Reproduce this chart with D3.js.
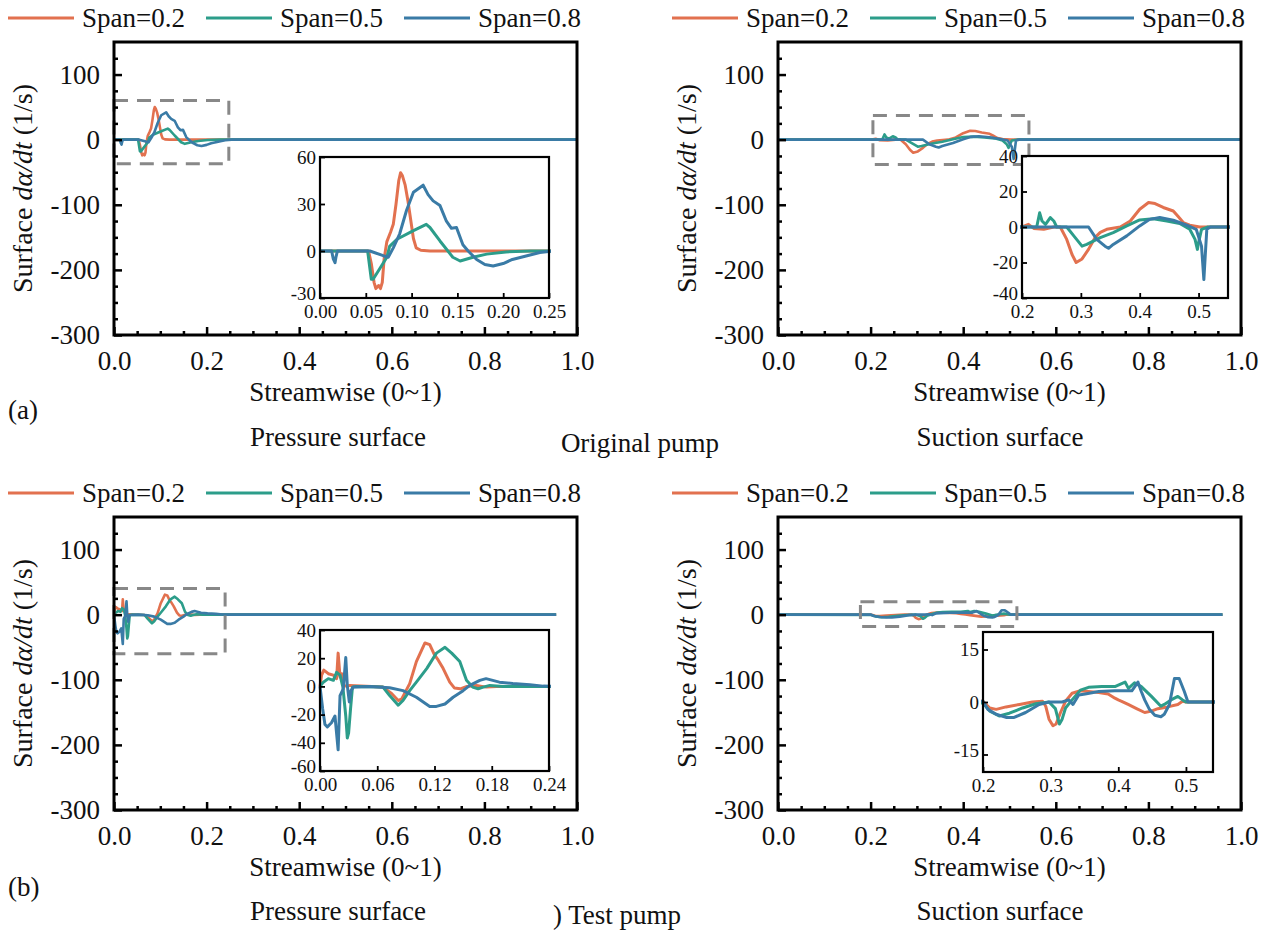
<!doctype html>
<html lang="en">
<head>
<meta charset="UTF-8" />
<title>Surface da/dt</title>
<script src="https://d3js.org/d3.v7.min.js"></script>
<style>
    body, html { margin: 0; padding: 0; background: #fff; }
    svg { display: block; }
    svg text { font-family: "Liberation Serif", "DejaVu Serif", Times, serif !important; fill: #111; }
</style>
</head>
<body>
<svg id="chart" width="1266" height="931"></svg>
<script>
const spans = ["Span=0.2", "Span=0.5", "Span=0.8"];
const colors = ["#e2714f", "#2c9d8a", "#3a7ba6"];

const mainXTicks = [0, 0.2, 0.4, 0.6, 0.8, 1.0];
const mainYTicks = [-300, -200, -100, 0, 100];

// (a) original pump - pressure surface
const aPs02 = [[0,0],[0.053,0],[0.056,-8],[0.059,-20],[0.061,-24],[0.064,-22],[0.066,-24],[0.068,-20],[0.070,-5],[0.073,6],[0.077,12],[0.080,17],[0.083,30],[0.086,45],[0.088,50],[0.090,48],[0.093,42],[0.096,32],[0.099,20],[0.102,8],[0.105,2],[0.110,0.5],[0.120,0],[1.0,0]];
const aPs05 = [[0,0],[0.052,0],[0.056,-18],[0.058,-18],[0.073,-4],[0.076,3],[0.084,7.5],[0.102,13],[0.116,17],[0.120,15],[0.131,6.4],[0.145,-4],[0.153,-6.4],[0.167,-4],[0.182,-2],[0.203,-0.6],[0.230,0],[1.0,0]];
const aPs08 = [[0,0],[0.0127,0],[0.0145,-5],[0.0164,-7.5],[0.0174,-4],[0.019,0],[0.0545,0],[0.069,-3],[0.0745,-4],[0.080,2],[0.087,11],[0.0945,26],[0.102,37.5],[0.1126,42],[0.118,36],[0.1235,32],[0.131,29],[0.138,19],[0.1435,14.5],[0.149,15],[0.156,4],[0.1617,0],[0.171,-5.4],[0.180,-8.6],[0.189,-9.6],[0.200,-8],[0.210,-5.4],[0.225,-3.2],[0.240,-1],[0.254,0],[1.0,0]];

// (a) original pump - suction surface
const aSs02 = [[0,0],[0.2,0],[0.211,1.5],[0.220,-0.8],[0.237,-1.3],[0.254,0],[0.265,0],[0.276,-7],[0.285,-15.5],[0.292,-20],[0.302,-18],[0.313,-12.6],[0.324,-6],[0.333,-3],[0.344,-1.3],[0.367,0],[0.384,3.4],[0.400,10],[0.415,13.8],[0.426,13.2],[0.440,11],[0.457,9],[0.465,6],[0.474,2.5],[0.485,1],[0.502,0],[1.0,0]];
const aSs05 = [[0,0],[0.225,0],[0.230,8],[0.234,3.4],[0.240,1.5],[0.248,5.3],[0.254,3.4],[0.259,0],[0.276,0],[0.288,-5],[0.302,-10.8],[0.310,-9.8],[0.333,-6],[0.355,-3.2],[0.378,0.6],[0.400,4],[0.423,4.7],[0.446,3.4],[0.468,2],[0.485,-1.3],[0.494,-7],[0.498,-12.6],[0.500,-8.9],[0.505,-1.3],[0.516,0],[1.0,0]];
const aSs08 = [[0,0],[0.313,0],[0.327,-7],[0.341,-10.8],[0.347,-12],[0.355,-9.8],[0.378,-5],[0.400,0.6],[0.417,4.3],[0.434,5.3],[0.457,3.8],[0.480,1],[0.496,-1.3],[0.505,-10.8],[0.509,-29.6],[0.511,-18],[0.514,-1.3],[0.520,0],[1.0,0]];

// (b) test pump - pressure surface
const bPs02 = [[0,0],[0.0017,8],[0.004,11.6],[0.0087,9],[0.014,8],[0.0174,5.5],[0.019,23.6],[0.021,6.7],[0.0227,9],[0.025,0.7],[0.028,0],[0.031,0.7],[0.066,-0.5],[0.075,-5],[0.082,-10],[0.0855,-9],[0.094,2],[0.101,17.6],[0.110,30.8],[0.115,29.6],[0.120,22.4],[0.1238,18.8],[0.129,12.8],[0.136,3],[0.141,-1.2],[0.147,-1.7],[0.154,0],[0.164,0.7],[0.174,-0.5],[0.185,0],[0.955,0]];
const bPs05 = [[0,0],[0.0035,3],[0.0087,5.5],[0.014,4.3],[0.0174,10],[0.021,8],[0.024,-0.5],[0.027,-21],[0.0286,-36.6],[0.030,-33],[0.032,-16],[0.034,-0.5],[0.038,0],[0.066,-0.5],[0.073,-6.5],[0.082,-13.3],[0.087,-10],[0.094,-3],[0.101,3],[0.112,12.8],[0.122,23.6],[0.131,27.7],[0.138,23.6],[0.1465,17.6],[0.1535,4.3],[0.160,-0.5],[0.1657,-1.7],[0.171,-0.5],[0.178,0.7],[0.192,0],[0.955,0]];
const bPs08 = [[0,0],[0.0028,-16],[0.0052,-27],[0.0077,-28.7],[0.012,-25.8],[0.0157,-21],[0.019,-45],[0.021,-6.5],[0.0244,-1.7],[0.027,20.5],[0.0286,0.7],[0.0307,-11],[0.0324,-3],[0.035,-0.5],[0.052,0],[0.073,-1],[0.087,-3],[0.101,-7.7],[0.115,-14.2],[0.122,-14.2],[0.131,-12.5],[0.1395,-7.7],[0.150,-3],[0.157,0.7],[0.1675,4.3],[0.174,5.5],[0.188,3],[0.202,2],[0.220,1.2],[0.234,0.2],[0.244,0],[0.955,0]];

// (b) test pump - suction surface
const bSs02 = [[0,0],[0.2,0.2],[0.210,-1.7],[0.2195,-2.1],[0.234,-1.4],[0.254,-0.7],[0.273,0],[0.288,0.2],[0.2927,-1.2],[0.2976,-4.9],[0.3034,-6.8],[0.308,-6.3],[0.3146,-3],[0.322,0.2],[0.3317,2.5],[0.344,3.2],[0.356,3],[0.371,2.7],[0.385,2.3],[0.395,1.1],[0.400,0.6],[0.405,0.2],[0.4146,-0.7],[0.427,-1.9],[0.439,-3],[0.449,-2.6],[0.4585,-1.9],[0.473,-1.4],[0.488,-0.7],[0.495,0.2],[0.500,0],[0.96,0]];
const bSs05 = [[0,0],[0.2,-0.3],[0.210,-2.6],[0.224,-4],[0.239,-3.2],[0.2585,-1.7],[0.278,-0.5],[0.2976,0],[0.307,-1.9],[0.313,-6.3],[0.317,-4.9],[0.322,-1.7],[0.3317,0.6],[0.344,3.4],[0.356,4.2],[0.3756,4.4],[0.395,4.4],[0.410,5.7],[0.415,3.9],[0.424,5.5],[0.434,4.4],[0.449,1.6],[0.463,-1.2],[0.468,-0.7],[0.478,0.6],[0.488,1.6],[0.495,0.6],[0.500,0],[0.96,0]];
const bSs08 = [[0,0],[0.2,0.2],[0.207,-2.1],[0.2195,-3.5],[0.234,-4.4],[0.246,-4.4],[0.263,-3],[0.283,-0.7],[0.2976,0],[0.317,0],[0.327,0.6],[0.333,-0.7],[0.3415,2],[0.351,2.3],[0.371,3],[0.395,3.2],[0.420,3.2],[0.429,5.7],[0.434,3],[0.439,0.6],[0.446,-2.1],[0.454,-3.8],[0.463,-4.2],[0.468,-3.5],[0.4756,-0.7],[0.483,6.7],[0.490,6.7],[0.4976,3],[0.503,0],[0.96,0]];

// inset ranges, tick values and dashed zoom boxes
const aPsInsetX = [0, 0.25], aPsInsetY = [-30, 60];
const aPsInsetXTicks = [0, 0.05, 0.10, 0.15, 0.20, 0.25], aPsInsetYTicks = [-30, 0, 30, 60];
const aPsBox = [0, 0.248, -37, 60];

const aSsInsetX = [0.2, 0.55], aSsInsetY = [-40, 40];
const aSsInsetXTicks = [0.2, 0.3, 0.4, 0.5], aSsInsetYTicks = [-40, -20, 0, 20, 40];
const aSsBox = [0.205, 0.542, -38, 37];

const bPsInsetX = [0, 0.24], bPsInsetY = [-60, 40];
const bPsInsetXTicks = [0, 0.06, 0.12, 0.18, 0.24], bPsInsetYTicks = [-60, -40, -20, 0, 20, 40];
const bPsBox = [0, 0.24, -60, 40];

const bSsInsetX = [0.2, 0.54], bSsInsetY = [-20, 20];
const bSsInsetXTicks = [0.2, 0.3, 0.4, 0.5], bSsInsetYTicks = [-15, 0, 15];
const bSsBox = [0.178, 0.516, -18, 20];

const svg = d3.select("#chart");
const FONT = "Liberation Serif, DejaVu Serif, serif";
// plain hyphen for negative numbers, as in the original figure
const loc = d3.formatLocale({ decimal: ".", thousands: ",", grouping: [3], currency: ["", ""], minus: "-" });

const panels = [
    { id: "aps", left: 114, top: 42, series: [aPs02, aPs05, aPs08], legendX: 8,
      inset: { left: 320, top: 157, w: 229, h: 141, xd: aPsInsetX, yd: aPsInsetY, xt: aPsInsetXTicks, yt: aPsInsetYTicks, fmt: ".2f" }, box: aPsBox },
    { id: "ass", left: 778, top: 42, series: [aSs02, aSs05, aSs08], legendX: 672,
      inset: { left: 1022, top: 156, w: 206, h: 142, xd: aSsInsetX, yd: aSsInsetY, xt: aSsInsetXTicks, yt: aSsInsetYTicks, fmt: ".1f" }, box: aSsBox },
    { id: "bps", left: 114, top: 517, series: [bPs02, bPs05, bPs08], legendX: 8,
      inset: { left: 320, top: 630, w: 229, h: 141, xd: bPsInsetX, yd: bPsInsetY, xt: bPsInsetXTicks, yt: bPsInsetYTicks, fmt: ".2f" }, box: bPsBox },
    { id: "bss", left: 778, top: 517, series: [bSs02, bSs05, bSs08], legendX: 672,
      inset: { left: 983, top: 632, w: 230, h: 140, xd: bSsInsetX, yd: bSsInsetY, xt: bSsInsetXTicks, yt: bSsInsetYTicks, fmt: ".1f" }, box: bSsBox }
];

const W = 463, H = 293;

function drawPanel(p) {
    const g = svg.append("g").attr("transform", `translate(${p.left},${p.top})`);
    const x = d3.scaleLinear().domain([0, 1]).range([0, W]);
    const y = d3.scaleLinear().domain([-300, 150]).range([H, 0]);

    g.append("clipPath").attr("id", "clip-" + p.id)
        .append("rect").attr("width", W).attr("height", H);

    const line = d3.line().x(d => x(d[0])).y(d => y(d[1]));
    p.series.forEach((s, i) => {
        g.append("path").datum(s)
            .attr("clip-path", `url(#clip-${p.id})`)
            .attr("fill", "none").attr("stroke", colors[i]).attr("stroke-width", 2.6)
            .attr("stroke-linejoin", "round")
            .attr("d", line);
    });

    // dashed zoom box
    g.append("rect")
        .attr("x", x(p.box[0])).attr("y", y(p.box[3]))
        .attr("width", x(p.box[1]) - x(p.box[0])).attr("height", y(p.box[2]) - y(p.box[3]))
        .attr("fill", "none").attr("stroke", "#888").attr("stroke-width", 3)
        .attr("stroke-dasharray", "14,9");

    // axes, ticks pointing inward
    const xAxis = g.append("g").attr("transform", `translate(0,${H})`)
        .call(d3.axisBottom(x).tickValues(mainXTicks).tickSize(-8).tickPadding(11).tickFormat(loc.format(".1f")));
    const xMinor = g.append("g").attr("transform", `translate(0,${H})`)
        .call(d3.axisBottom(x).tickValues(d3.range(0.05, 1, 0.05).filter(v => Math.abs(v * 5 - Math.round(v * 5)) > 1e-6)).tickSize(-4).tickFormat(""));
    const yAxis = g.append("g")
        .call(d3.axisLeft(y).tickValues(mainYTicks).tickSize(-8).tickPadding(14).tickFormat(loc.format("d")));
    const yMinor = g.append("g")
        .call(d3.axisLeft(y).tickValues(d3.range(-275, 150, 25).filter(v => v % 100 !== 0)).tickSize(-4).tickFormat(""));
    [xAxis, xMinor, yAxis, yMinor].forEach(a => {
        a.attr("font-family", FONT);
        a.select(".domain").remove();
        a.selectAll("line").attr("stroke", "#000").attr("stroke-width", 2.5);
        a.selectAll("text").attr("font-size", 27).attr("fill", "#111");
    });
    xAxis.selectAll("text").attr("dy", "0.9em");

    g.append("rect").attr("width", W).attr("height", H)
        .attr("fill", "none").attr("stroke", "#000").attr("stroke-width", 3);

    // y label
    const yl = g.append("text")
        .attr("transform", `translate(${-82},${H / 2}) rotate(-90)`)
        .attr("text-anchor", "middle").attr("font-size", 28);
    yl.append("tspan").text("Surface ");
    yl.append("tspan").attr("font-style", "italic").text("d\u03b1/dt");
    yl.append("tspan").text(" (1/s)");

    g.append("text").attr("x", W / 2).attr("y", H + 66)
        .attr("text-anchor", "middle").attr("font-size", 27)
        .text("Streamwise (0~1)");

    // legend above the frame
    const lg = svg.append("g").attr("transform", `translate(${p.legendX},${p.top - 24})`);
    spans.forEach((s, i) => {
        const gx = i * 198;
        lg.append("line").attr("x1", gx).attr("x2", gx + 66).attr("y1", 0).attr("y2", 0)
            .attr("stroke", colors[i]).attr("stroke-width", 3);
        lg.append("text").attr("x", gx + 74).attr("y", 9).attr("font-size", 27).text(s);
    });

    // inset
    const ins = p.inset;
    const ig = svg.append("g").attr("transform", `translate(${ins.left},${ins.top})`);
    const xi = d3.scaleLinear().domain(ins.xd).range([0, ins.w]);
    const yi = d3.scaleLinear().domain(ins.yd).range([ins.h, 0]);
    ig.append("rect").attr("width", ins.w).attr("height", ins.h).attr("fill", "#fff");
    ig.append("clipPath").attr("id", "iclip-" + p.id)
        .append("rect").attr("x", -2).attr("y", -2).attr("width", ins.w + 4).attr("height", ins.h + 4);
    const iline = d3.line().x(d => xi(d[0])).y(d => yi(d[1]));
    p.series.forEach((s, i) => {
        ig.append("path").datum(s)
            .attr("clip-path", `url(#iclip-${p.id})`)
            .attr("fill", "none").attr("stroke", colors[i]).attr("stroke-width", 3)
            .attr("stroke-linejoin", "round")
            .attr("d", iline);
    });
    const ixa = ig.append("g").attr("transform", `translate(0,${ins.h})`)
        .call(d3.axisBottom(xi).tickValues(ins.xt).tickSize(-5).tickPadding(4).tickFormat(loc.format(ins.fmt)));
    const iya = ig.append("g")
        .call(d3.axisLeft(yi).tickValues(ins.yt).tickSize(-5).tickPadding(4).tickFormat(loc.format("d")));
    [ixa, iya].forEach(a => {
        a.attr("font-family", FONT);
        a.select(".domain").remove();
        a.selectAll("line").attr("stroke", "#000").attr("stroke-width", 1.8);
        a.selectAll("text").attr("font-size", 19).attr("fill", "#111");
    });
    ixa.selectAll("text").attr("dy", "0.85em");
    // lowest y label sits against the x labels, lift it a little
    iya.selectAll(".tick text").filter(d => d === ins.yt[0]).attr("dy", "0.1em");
    ig.append("rect").attr("width", ins.w).attr("height", ins.h)
        .attr("fill", "none").attr("stroke", "#000").attr("stroke-width", 2.2);
}

panels.forEach(drawPanel);

// captions
const caps = [
    { x: 8, y: 419, t: "(a)", a: "start" },
    { x: 338, y: 446, t: "Pressure surface", a: "middle" },
    { x: 640, y: 452, t: "Original pump", a: "middle" },
    { x: 1000, y: 446, t: "Suction surface", a: "middle" },
    { x: 8, y: 896, t: "(b)", a: "start" },
    { x: 338, y: 920, t: "Pressure surface", a: "middle" },
    { x: 553, y: 924, t: ") Test pump", a: "start" },
    { x: 1000, y: 920, t: "Suction surface", a: "middle" }
];
svg.selectAll("text.cap").data(caps).enter().append("text")
    .attr("class", "cap")
    .attr("x", d => d.x).attr("y", d => d.y)
    .attr("text-anchor", d => d.a).attr("font-size", 27)
    .text(d => d.t);
</script>
</body>
</html>
